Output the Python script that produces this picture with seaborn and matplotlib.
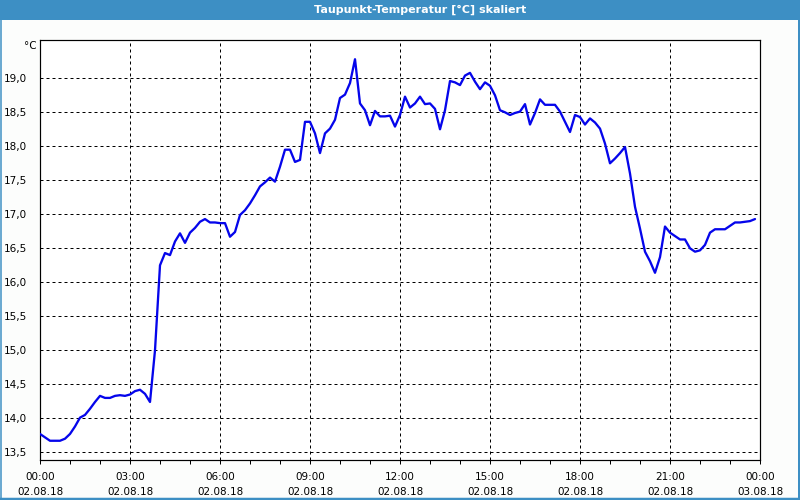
import matplotlib
matplotlib.use("Agg")
import matplotlib.pyplot as plt
import matplotlib.dates as mdates
from matplotlib.ticker import FuncFormatter
from matplotlib.patches import Rectangle
from matplotlib.lines import Line2D
import pandas as pd
import seaborn as sns

# ---- data (10-minute samples, 02.08.18 00:00 .. 23:50) ----
start_time = "2018-08-02 00:00"
sample_step = "10min"
dewpoint = [
    13.77, 13.72, 13.67, 13.67, 13.67, 13.70,   # 00:00
    13.77, 13.88, 14.01, 14.05, 14.14, 14.24,   # 01:00
    14.33, 14.30, 14.30, 14.33, 14.34, 14.33,   # 02:00
    14.35, 14.40, 14.42, 14.36, 14.24, 15.00,   # 03:00
    16.25, 16.43, 16.40, 16.60, 16.72, 16.58,   # 04:00
    16.73, 16.80, 16.89, 16.93, 16.88, 16.88,   # 05:00
    16.87, 16.87, 16.67, 16.74, 16.99, 17.06,   # 06:00
    17.16, 17.28, 17.41, 17.47, 17.54, 17.48,   # 07:00
    17.70, 17.95, 17.95, 17.77, 17.80, 18.36,   # 08:00
    18.36, 18.19, 17.90, 18.19, 18.26, 18.39,   # 09:00
    18.71, 18.76, 18.93, 19.28, 18.63, 18.53,   # 10:00
    18.31, 18.52, 18.44, 18.44, 18.45, 18.29,   # 11:00
    18.46, 18.73, 18.57, 18.63, 18.73, 18.62,   # 12:00
    18.63, 18.55, 18.25, 18.53, 18.96, 18.94,   # 13:00
    18.90, 19.04, 19.08, 18.95, 18.84, 18.94,   # 14:00
    18.89, 18.75, 18.53, 18.50, 18.46, 18.49,   # 15:00
    18.51, 18.62, 18.32, 18.49, 18.69, 18.61,   # 16:00
    18.61, 18.61, 18.51, 18.36, 18.21, 18.46,   # 17:00
    18.43, 18.32, 18.41, 18.35, 18.26, 18.04,   # 18:00
    17.75, 17.82, 17.90, 17.99, 17.60, 17.11,   # 19:00
    16.79, 16.45, 16.31, 16.14, 16.37, 16.82,   # 20:00
    16.73, 16.68, 16.63, 16.63, 16.50, 16.45,   # 21:00
    16.47, 16.55, 16.73, 16.78, 16.78, 16.78,   # 22:00
    16.83, 16.88, 16.88, 16.89, 16.90, 16.93,   # 23:00
]
x_start = "2018-08-02 00:00"
x_end = "2018-08-03 00:00"
y_ticks = [13.5, 14.0, 14.5, 15.0, 15.5, 16.0, 16.5, 17.0, 17.5, 18.0, 18.5, 19.0]
title = "Taupunkt-Temperatur [°C] skaliert"
unit_label = "°C"

times = pd.date_range(start_time, periods=len(dewpoint), freq=sample_step)
df = pd.DataFrame({"Zeit": times, "Taupunkt": dewpoint})

# ---- style ----
sns.set_style("white")
plt.rcParams["font.family"] = ["DejaVu Sans"]
plt.rcParams["text.color"] = "black"
plt.rcParams["xtick.color"] = "black"
plt.rcParams["ytick.color"] = "black"
plt.rcParams["xtick.labelcolor"] = "black"
plt.rcParams["ytick.labelcolor"] = "black"

W, H = 800, 500
fig = plt.figure(figsize=(8, 5), dpi=100)
fig.patch.set_facecolor("#fcfdfc")

PX = 72 / 100  # points per pixel

ax = fig.add_axes([40 / W, 40 / H, 720 / W, 420 / H])
ax.set_facecolor("#ffffff")

sns.lineplot(data=df, x="Zeit", y="Taupunkt", ax=ax, color="#0505eb",
             linewidth=2.3 * PX, zorder=3)

ax.set_xlim(pd.Timestamp(x_start), pd.Timestamp(x_end))
ax.set_ylim(13.387, 19.563)
ax.set_xlabel("")
ax.set_ylabel("")

ax.xaxis.set_major_locator(mdates.HourLocator(byhour=range(0, 24, 3)))
ax.xaxis.set_minor_locator(mdates.HourLocator())
ax.xaxis.set_major_formatter(mdates.DateFormatter("%H:%M\n%d.%m.%y"))
ax.set_yticks(y_ticks)
ax.yaxis.set_major_formatter(FuncFormatter(lambda v, p: f"{v:.1f}".replace(".", ",")))

ax.tick_params(axis="x", which="both", direction="out", length=3, width=1 * PX,
               color="black", labelcolor="black", labelsize=7.5, pad=6, bottom=True)
ax.tick_params(axis="y", which="both", length=0, labelsize=7.5, pad=9.5,
               labelcolor="black", left=True)
for lab in ax.get_xticklabels():
    lab.set_linespacing(1.55)

grid_kw = dict(color="black", linewidth=1 * PX, linestyle=(0, (3, 3)))
ax.grid(True, which="major", axis="both", **grid_kw)
ax.grid(False, which="minor")

for s in ax.spines.values():
    s.set_visible(True)
    s.set_color("black")
    s.set_linewidth(1.2 * PX)

# unit label above the y axis
fig.text(37 / W, 1 - 46 / H, unit_label, ha="right", va="center", fontsize=7.5,
         color="black")

# title bar
fig.patches.append(Rectangle((0, 1 - 20 / H), 1, 20 / H, transform=fig.transFigure,
                             facecolor="#3d8fc4", edgecolor="none", zorder=0))
fig.text(420 / W, 1 - 10 / H, title, ha="center", va="center", fontsize=8,
         fontweight="bold", color="white")

# window border (left, right, bottom)
bc = "#3d8fc4"
fig.lines.append(Line2D([0.5 / W, 0.5 / W], [0, 1], transform=fig.transFigure,
                        color=bc, linewidth=1.5 * PX))
fig.lines.append(Line2D([1 - 1 / W, 1 - 1 / W], [0, 1], transform=fig.transFigure,
                        color=bc, linewidth=2 * PX))
fig.lines.append(Line2D([0, 1], [1 / H, 1 / H], transform=fig.transFigure,
                        color=bc, linewidth=2.5 * PX))

fig.savefig("out.png", dpi=100, facecolor=fig.get_facecolor())
